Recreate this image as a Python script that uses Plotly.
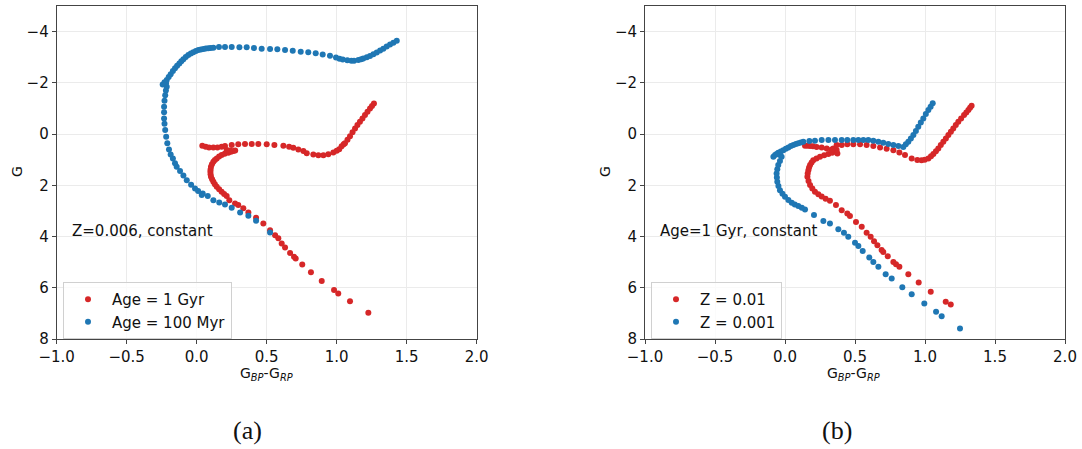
import plotly.graph_objects as go

# ---------------- data ----------------
# Panel (a): Z=0.006
a_1gyr_x = [1.226, 1.095, 1.011, 0.981, 0.893, 0.816, 0.754, 0.707, 0.695, 0.667, 0.631, 0.607, 0.583, 0.56, 0.524,
            0.476, 0.424, 0.369, 0.333, 0.297, 0.274, 0.233,
            0.214, 0.196, 0.178, 0.160, 0.143, 0.130, 0.119, 0.110, 0.102, 0.099, 0.098, 0.099, 0.102, 0.109, 0.119,
            0.130, 0.143, 0.160, 0.178, 0.200, 0.226, 0.245, 0.262, 0.275,
            0.238, 0.214, 0.202, 0.178, 0.148, 0.119, 0.088, 0.064, 0.040,
            0.250, 0.297, 0.345, 0.393, 0.440, 0.500, 0.555, 0.619, 0.660, 0.690, 0.726, 0.762, 0.786, 0.833, 0.869,
            0.905, 0.940, 0.976, 1.000, 1.018,
            1.035, 1.050, 1.059, 1.077, 1.095, 1.113, 1.131, 1.148, 1.166, 1.184, 1.202, 1.220, 1.238, 1.252, 1.266]
a_1gyr_y = [6.98, 6.53, 6.22, 6.09, 5.74, 5.39, 5.09, 4.86, 4.79, 4.64, 4.43, 4.27, 4.07, 3.95, 3.75,
            3.49, 3.27, 3.06, 2.90, 2.77, 2.71, 2.58,
            2.42, 2.34, 2.25, 2.15, 2.06, 1.96, 1.86, 1.76, 1.67, 1.57, 1.47, 1.38, 1.28, 1.18, 1.08,
            1.01, 0.95, 0.88, 0.82, 0.77, 0.73, 0.69, 0.66, 0.64,
            0.64, 0.62, 0.47, 0.49, 0.52, 0.52, 0.52, 0.49, 0.46,
            0.43, 0.40, 0.39, 0.39, 0.39, 0.40, 0.43, 0.46, 0.49, 0.53, 0.60, 0.66, 0.75, 0.80, 0.83,
            0.83, 0.79, 0.72, 0.65, 0.59,
            0.48, 0.40, 0.36, 0.22, 0.08, -0.07, -0.22, -0.35, -0.48, -0.61, -0.74, -0.87, -1.00, -1.10, -1.19]

a_100myr_x = [0.524, 0.424, 0.369, 0.310, 0.250, 0.202, 0.161, 0.119, 0.079, 0.043,
              0.036, 0.010, -0.012, -0.040, -0.071, -0.095, -0.119, -0.143, -0.155, -0.170, -0.186, -0.198,
              -0.210, -0.218, -0.225, -0.230, -0.233, -0.233, -0.233, -0.230, -0.225, -0.220, -0.214, -0.219,
              -0.243, -0.230, -0.214, -0.200, -0.186, -0.170, -0.155, -0.140, -0.124, -0.110, -0.095, -0.078,
              -0.060, -0.042, -0.024, -0.006, 0.012, 0.030, 0.048, 0.065, 0.083, 0.100, 0.119,
              0.159, 0.202, 0.250, 0.305, 0.357, 0.409, 0.464, 0.524, 0.576, 0.631, 0.686, 0.743, 0.797,
              0.850, 0.900, 0.952, 0.995, 1.020, 1.043, 1.076, 1.105, 1.124, 1.155, 1.175, 1.190, 1.215,
              1.238, 1.262, 1.286, 1.310, 1.333, 1.357, 1.381, 1.405, 1.429]
a_100myr_y = [3.84, 3.38, 3.19, 3.06, 2.88, 2.75, 2.67, 2.58, 2.42, 2.32,
              2.38, 2.22, 2.12, 1.98, 1.80, 1.62, 1.44, 1.28, 1.14, 0.95, 0.80, 0.60,
              0.36, 0.10, -0.16, -0.40, -0.61, -0.85, -1.07, -1.30, -1.52, -1.70, -1.85, -1.98,
              -1.94, -2.02, -2.11, -2.23, -2.34, -2.46, -2.57, -2.67, -2.76, -2.84, -2.92, -3.01,
              -3.09, -3.15, -3.19, -3.24, -3.28, -3.30, -3.32, -3.34, -3.35, -3.36, -3.37,
              -3.40, -3.40, -3.40, -3.39, -3.39, -3.36, -3.33, -3.32, -3.31, -3.28, -3.25, -3.21, -3.19,
              -3.16, -3.11, -3.06, -2.99, -2.94, -2.91, -2.88, -2.86, -2.86, -2.89, -2.92, -2.95, -3.00,
              -3.05, -3.12, -3.18, -3.26, -3.33, -3.42, -3.50, -3.57, -3.64]

# Panel (b): Age = 1 Gyr
b_z01_x = [1.184, 1.148, 1.041, 0.955, 0.881, 0.817, 0.793, 0.774, 0.734, 0.702, 0.690, 0.660, 0.636, 0.612,
           0.583, 0.548, 0.507, 0.464, 0.445, 0.405, 0.364, 0.321,
           0.290, 0.262, 0.238, 0.214, 0.195, 0.179, 0.168, 0.160, 0.162, 0.167, 0.172, 0.179, 0.190, 0.202,
           0.225, 0.250, 0.280, 0.310, 0.337, 0.364, 0.374, 0.369,
           0.345, 0.333, 0.298, 0.262, 0.226, 0.200, 0.179, 0.160, 0.143,
           0.369, 0.405, 0.445, 0.488, 0.536, 0.583, 0.631, 0.679, 0.726, 0.774, 0.817, 0.857, 0.905, 0.945,
           0.975, 0.998, 1.024, 1.043, 1.060, 1.078, 1.095, 1.113, 1.131, 1.149, 1.167, 1.185, 1.202, 1.220,
           1.238, 1.258, 1.279, 1.295, 1.310, 1.322, 1.333]
b_z01_y = [6.65, 6.55, 6.16, 5.79, 5.47, 5.18, 5.08, 4.99, 4.77, 4.60, 4.53, 4.34, 4.18, 4.01,
           3.85, 3.62, 3.43, 3.20, 3.10, 2.97, 2.77, 2.60,
           2.52, 2.44, 2.35, 2.25, 2.12, 1.99, 1.83, 1.67, 1.54, 1.41, 1.30, 1.21, 1.11, 1.02,
           0.95, 0.89, 0.83, 0.78, 0.73, 0.69, 0.76, 0.62,
           0.56, 0.60, 0.56, 0.52, 0.50, 0.48, 0.47, 0.46, 0.46,
           0.43, 0.43, 0.40, 0.40, 0.40, 0.43, 0.47, 0.52, 0.57, 0.63, 0.72, 0.82, 0.95, 1.01,
           1.02, 1.00, 0.95, 0.87, 0.78, 0.67, 0.56, 0.43, 0.30, 0.17, 0.04, -0.09, -0.22, -0.35,
           -0.48, -0.61, -0.74, -0.84, -0.94, -1.03, -1.11]

b_z001_x = [1.250, 1.119, 1.079, 0.995, 0.905, 0.838, 0.762, 0.719, 0.667, 0.631, 0.602, 0.555, 0.524, 0.500,
            0.452, 0.421, 0.381, 0.321, 0.274, 0.207, 0.143,
            0.120, 0.095, 0.070, 0.048, 0.024, 0.000, -0.018, -0.036, -0.047, -0.055, -0.058, -0.060, -0.055,
            -0.048, -0.036, -0.024, -0.036, -0.083, -0.071, -0.060, -0.048, -0.030, -0.012, 0.006, 0.024,
            0.042, 0.060, 0.078, 0.095, 0.113, 0.131, 0.174, 0.214, 0.262, 0.310, 0.357, 0.405, 0.445,
            0.488, 0.524, 0.560, 0.595, 0.631, 0.667, 0.702, 0.738, 0.774, 0.810, 0.845,
            0.863, 0.881, 0.899, 0.917, 0.935, 0.952, 0.970, 0.988, 1.006, 1.024, 1.040, 1.055]
b_z001_y = [7.59, 7.11, 6.94, 6.61, 6.25, 5.98, 5.64, 5.47, 5.18, 4.99, 4.82, 4.56, 4.37, 4.24,
            4.01, 3.85, 3.72, 3.49, 3.39, 3.16, 2.94,
            2.88, 2.81, 2.75, 2.68, 2.57, 2.45, 2.33, 2.19, 2.03, 1.86, 1.70, 1.54, 1.37,
            1.21, 1.05, 0.89, 0.82, 0.89, 0.82, 0.78, 0.73, 0.68, 0.63, 0.57, 0.52,
            0.47, 0.43, 0.39, 0.36, 0.33, 0.30, 0.27, 0.26, 0.23, 0.23, 0.23, 0.23, 0.23,
            0.23, 0.23, 0.23, 0.23, 0.26, 0.30, 0.34, 0.39, 0.43, 0.47, 0.50,
            0.40, 0.30, 0.17, 0.04, -0.12, -0.29, -0.45, -0.61, -0.78, -0.94, -1.07, -1.20]

x_ticks = [-1.0, -0.5, 0.0, 0.5, 1.0, 1.5, 2.0]
x_tick_labels = ["\u22121.0", "\u22120.5", "0.0", "0.5", "1.0", "1.5", "2.0"]
y_ticks = [-4, -2, 0, 2, 4, 6, 8]
y_tick_labels = ["\u22124", "\u22122", "0", "2", "4", "6", "8"]

RED = "#d62728"
BLUE = "#1f77b4"
FONT = "DejaVu Sans"
TXT = "#111111"

fig = go.Figure()

def add(x, y, color, name, xa, ya, leg):
    fig.add_trace(go.Scatter(x=x, y=y, mode="markers", name=name, xaxis=xa, yaxis=ya, legend=leg,
                             marker=dict(color=color, size=6, line=dict(width=0))))

add(a_1gyr_x, a_1gyr_y, RED, "Age = 1 Gyr", "x", "y", "legend")
add(a_100myr_x, a_100myr_y, BLUE, "Age = 100 Myr", "x", "y", "legend")
add(b_z01_x, b_z01_y, RED, "Z = 0.01", "x2", "y2", "legend2")
add(b_z001_x, b_z001_y, BLUE, "Z = 0.001", "x2", "y2", "legend2")

ydom = [1 - 339 / 449, 1 - 6 / 449]
xdom_a = [56.7 / 1082, 476.7 / 1082]
xdom_b = [645 / 1082, 1065 / 1082]

axis_common = dict(showline=True, mirror=True, linecolor="#444444", linewidth=1, automargin=False,
                   showgrid=True, gridcolor="#ebebeb", gridwidth=1, zeroline=False,
                   ticks="outside", ticklen=4, tickcolor="#444444",
                   tickfont=dict(family=FONT, size=15, color=TXT))

legend_common = dict(xanchor="left", yanchor="top", y=1 - 282 / 449,
                     bgcolor="rgba(255,255,255,0.8)", bordercolor="#d0d0d0", borderwidth=1,
                     font=dict(family=FONT, size=15, color=TXT), tracegroupgap=0, itemwidth=38)

fig.update_layout(
    width=1082, height=449, autosize=False,
    margin=dict(l=0, r=0, t=0, b=0, autoexpand=False),
    paper_bgcolor="white", plot_bgcolor="white",
    xaxis=dict(domain=xdom_a, range=[-1, 2], anchor="y", tickvals=x_ticks, ticktext=x_tick_labels, **axis_common),
    yaxis=dict(domain=ydom, range=[8, -5], anchor="x", tickvals=y_ticks, ticktext=y_tick_labels, **axis_common),
    xaxis2=dict(domain=xdom_b, range=[-1, 2], anchor="y2", tickvals=x_ticks, ticktext=x_tick_labels, **axis_common),
    yaxis2=dict(domain=ydom, range=[8, -5], anchor="x2", tickvals=y_ticks, ticktext=y_tick_labels, **axis_common),
    legend=dict(x=63 / 1082, **legend_common),
    legend2=dict(x=651 / 1082, **legend_common),
    showlegend=True,
)

ann = []
# in-plot texts
ann.append(dict(text="Z=0.006, constant", xref="x", yref="y", x=-0.905, y=3.79, xanchor="left", yanchor="middle",
                showarrow=False, font=dict(family=FONT, size=15, color=TXT)))
ann.append(dict(text="Age=1 Gyr, constant", xref="x2", yref="y2", x=-0.907, y=3.79, xanchor="left",
                yanchor="middle", showarrow=False, font=dict(family=FONT, size=15, color=TXT)))
# axis titles
for xc in [266 / 1082, 853 / 1082]:
    ann.append(dict(text="G<sub><i>BP</i></sub>-G<sub><i>RP</i></sub>", xref="paper", yref="paper",
                    x=xc, y=1 - 374 / 449, xanchor="center", yanchor="middle", showarrow=False,
                    font=dict(family=FONT, size=14, color=TXT)))
for xc in [17 / 1082, 605 / 1082]:
    ann.append(dict(text="G", xref="paper", yref="paper", x=xc, y=1 - 172 / 449, xanchor="center",
                    yanchor="middle", textangle=-90, showarrow=False,
                    font=dict(family=FONT, size=14, color=TXT)))
# captions
for xc, t in [(248 / 1082, "(a)"), (837 / 1082, "(b)")]:
    ann.append(dict(text=t, xref="paper", yref="paper", x=xc, y=1 - 430 / 449, xanchor="center",
                    yanchor="middle", showarrow=False,
                    font=dict(family="Liberation Serif", size=26, color=TXT)))
fig.update_layout(annotations=ann)

fig.write_html("out.html")
